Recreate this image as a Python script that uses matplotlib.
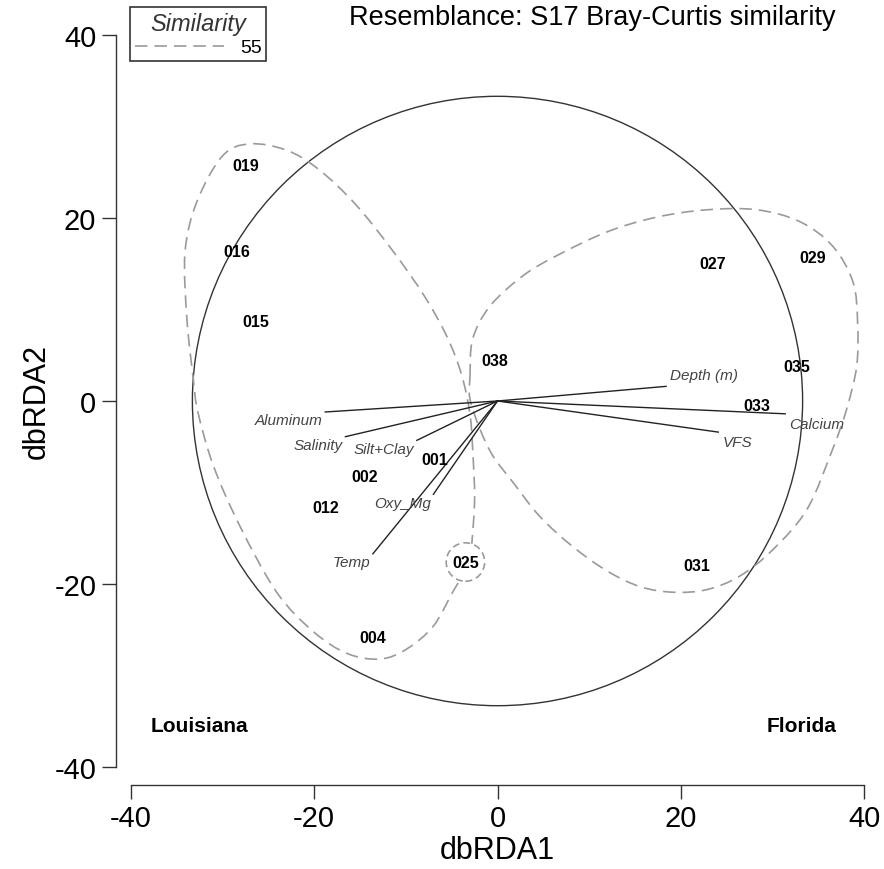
import numpy as np
import matplotlib
matplotlib.use('Agg')
import matplotlib.pyplot as plt
from matplotlib.path import Path
from matplotlib.patches import PathPatch, Circle
from matplotlib.lines import Line2D

plt.rcParams['font.family'] = ['Liberation Sans', 'DejaVu Sans']
plt.rcParams['lines.scale_dashes'] = False
plt.rcParams['axes.unicode_minus'] = False

# sample scores on dbRDA1 / dbRDA2
sites = ['019', '016', '015', '038', '027', '029', '035', '033',
         '001', '002', '012', '025', '031', '004']
site_x = [-27.5, -28.5, -26.4, -0.3, 23.5, 34.4, 32.7, 28.3,
          -6.9, -14.5, -18.7, -3.5, 21.8, -13.6]
site_y = [25.7, 16.3, 8.7, 4.4, 15.0, 15.7, 3.8, -0.5,
          -6.4, -8.3, -11.6, -17.6, -18.0, -25.9]

# environmental vectors (end points)
env = ['Aluminum', 'Salinity', 'Silt+Clay', 'Oxy_Mg', 'Temp',
       'Depth (m)', 'Calcium', 'VFS']
env_x = [-18.8, -16.6, -8.8, -7.0, -13.6, 18.4, 31.4, 24.1]
env_y = [-1.2, -3.9, -4.3, -10.2, -16.7, 1.6, -1.4, -3.4]

# correlation circle radius
circle_r = 33.3

# 55% similarity contours
louisiana_x = [-4.3, -4.9, -7.0, -9.9, -12.8, -16.4, -20.1, -24.1, -28.1, -31.0,
               -32.7, -33.2, -33.9, -34.1, -32.8, -30.0, -27.0, -23.0, -19.5,
               -15.5, -11.5, -8.0, -5.5, -3.9, -3.0, -2.7, -2.5, -2.8]
louisiana_y = [-19.9, -20.9, -24.6, -27.1, -28.2, -27.6, -25.2, -20.9, -13.7, -7.1,
               -1.2, 2.4, 9.0, 16.3, 21.8, 26.8, 28.1, 27.4, 25.3,
               21.5, 16.5, 11.5, 7.0, 2.8, -1.5, -5.5, -10.7, -15.6]
florida_x = [-3.0, -2.7, -0.8, 2.8, 6.5, 12.0, 17.4, 22.9, 28.3, 33.0, 36.6, 38.8,
             39.3, 39.2, 38.1, 36.6, 33.8, 30.1, 26.5, 22.9, 19.2, 15.6, 12.0,
             8.2, 4.6, 1.7, -0.5, -1.9, -3.0]
florida_y = [2.7, 6.8, 10.4, 13.7, 15.9, 18.5, 20.1, 20.9, 20.9, 19.6, 16.9, 13.0,
             8.6, 3.8, -0.9, -5.2, -11.8, -16.2, -19.1, -20.6, -20.9, -20.3, -18.6,
             -15.9, -12.6, -8.9, -6.0, -3.1, 0.2]
single_r = 2.1  # circle round 025

contour_col = '#9a9a9a'
dash = (0, (9, 5))


def smooth(xs, ys, closed):
    P = np.column_stack([xs, ys])
    if closed:
        P = np.vstack([P[-1], P, P[0], P[1]])
    else:
        P = np.vstack([P[0], P, P[-1]])
    verts = [P[1]]
    codes = [Path.MOVETO]
    for i in range(1, len(P) - 2):
        p0, p1, p2, p3 = P[i - 1], P[i], P[i + 1], P[i + 2]
        verts += [p1 + (p2 - p0) / 6, p2 - (p3 - p1) / 6, p2]
        codes += [Path.CURVE4] * 3
    return Path(verts, codes)


fig = plt.figure(figsize=(8.84, 8.7), dpi=100)
ax = fig.add_axes([131 / 884, 1 - 768 / 870, 733 / 884, 732 / 870])
ax.set_xlim(-40, 40)
ax.set_ylim(-40, 40)

ax.add_patch(Circle((0, 0), circle_r, fill=False, ec='#333333', lw=1.0))
ax.add_patch(PathPatch(smooth(louisiana_x, louisiana_y, False), fill=False,
                       ec=contour_col, lw=1.2, ls=dash))
ax.add_patch(PathPatch(smooth(florida_x, florida_y, True), fill=False,
                       ec=contour_col, lw=1.2, ls=dash))
ax.add_patch(Circle((site_x[sites.index('025')], site_y[sites.index('025')]), single_r,
                    fill=False, ec=contour_col, lw=1.2, ls=(0, (5, 3))))

for name, ex, ey in zip(env, env_x, env_y):
    ax.plot([0, ex], [0, ey], color='#222222', lw=1.0)
    if name == 'Depth (m)':
        off, ha, va = (3, 3), 'left', 'bottom'
    elif ex < 0:
        off, ha, va = (-2, -1), 'right', 'top'
    else:
        off, ha, va = (3, -2), 'left', 'top'
    ax.annotate(name, (ex, ey), xytext=off, textcoords='offset points',
                ha=ha, va=va, fontsize=11, style='italic', color='#444444')

for s, sx, sy in zip(sites, site_x, site_y):
    ax.text(sx, sy, s, ha='center', va='center', fontsize=11.5, fontweight='bold')

ax.text(-32.5, -35.5, 'Louisiana', ha='center', va='center', fontsize=15, fontweight='bold')
ax.text(33.2, -35.5, 'Florida', ha='center', va='center', fontsize=15, fontweight='bold')

for side in ['top', 'right']:
    ax.spines[side].set_visible(False)
ax.spines['left'].set_position(('outward', 11))
ax.spines['bottom'].set_position(('outward', 13))
for side in ['left', 'bottom']:
    ax.spines[side].set_color('#333333')
    ax.spines[side].set_linewidth(1.0)
ax.set_xticks([-40, -20, 0, 20, 40])
ax.set_yticks([-40, -20, 0, 20, 40])
ax.tick_params(length=10, width=1.0, color='#333333', labelsize=21, pad=4)
ax.set_xlabel('dbRDA1', fontsize=22, labelpad=2)
ax.set_ylabel('dbRDA2', fontsize=22, labelpad=2)

fig.text(592 / 884, 1 - 18 / 870, 'Resemblance: S17 Bray-Curtis similarity',
         ha='center', va='center', fontsize=19.5)

h = Line2D([], [], color=contour_col, lw=1.2, ls=dash)
leg = ax.legend([h], ['55'], title='Similarity', loc='upper left',
                bbox_to_anchor=(130 / 884, 1 - 8 / 870), bbox_transform=fig.transFigure,
                borderaxespad=0, fancybox=False, fontsize=14, handlelength=4.6,
                title_fontproperties={'style': 'italic', 'size': 17},
                borderpad=0.25, labelspacing=0.2, handletextpad=0.8)
leg.get_frame().set_edgecolor('black')
leg.get_frame().set_linewidth(1.2)
leg.get_title().set_color('#333333')

fig.savefig('out.png', dpi=100, facecolor='white')
